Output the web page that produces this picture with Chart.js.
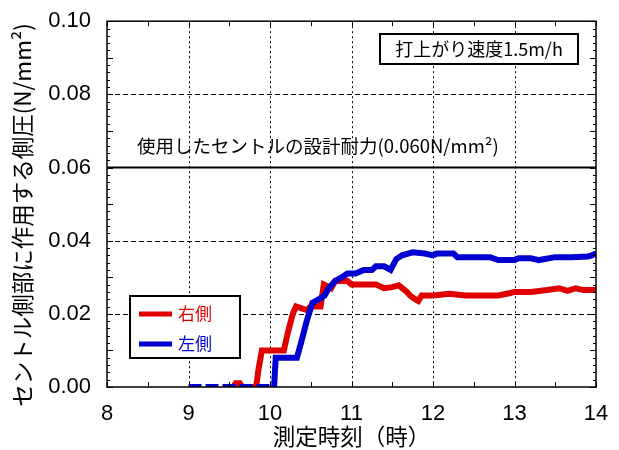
<!DOCTYPE html>
<html>
<head>
<meta charset="utf-8">
<script src="https://cdn.jsdelivr.net/npm/chart.js@4/dist/chart.umd.min.js"></script>
<style>
  html, body { margin: 0; padding: 0; background: #fff; }
  #wrap { width: 619px; height: 450px; }
</style>
</head>
<body>
<div id="wrap"><canvas id="chart" width="619" height="450"></canvas></div>
<script>
// 右側 (right side) readings
const rightTimes = [9.55, 9.58, 9.63, 9.66, 9.83, 9.86, 9.90, 10.17, 10.22, 10.28, 10.32, 10.45, 10.50, 10.62,
  10.66, 10.75, 10.80, 10.95, 11.00, 11.20, 11.30, 11.40, 11.50, 11.58, 11.68, 11.72, 11.78, 11.82, 11.86,
  12.00, 12.20, 12.40, 12.60, 12.80, 12.95, 13.00, 13.20, 13.40, 13.55, 13.65, 13.75, 13.85, 14.00];
const rightValues = [0, 0.001, 0.001, 0, 0, 0.005, 0.010, 0.010, 0.015, 0.020, 0.022, 0.021, 0.022, 0.022,
  0.028, 0.027, 0.029, 0.029, 0.028, 0.028, 0.028, 0.027, 0.0273, 0.0278, 0.026, 0.025, 0.024, 0.0235, 0.025,
  0.025, 0.0255, 0.025, 0.025, 0.025, 0.0257, 0.026, 0.026, 0.0265, 0.027, 0.0263, 0.027, 0.0265, 0.0265];

// 左側 (left side) readings
const leftTimes = [9.00, 10.05, 10.07, 10.33, 10.38, 10.45, 10.52, 10.60, 10.67, 10.72, 10.80, 10.88, 10.95,
  11.05, 11.15, 11.25, 11.30, 11.40, 11.48, 11.55, 11.62, 11.75, 11.90, 12.00, 12.05, 12.25, 12.30, 12.50,
  12.70, 12.80, 13.00, 13.05, 13.20, 13.30, 13.50, 13.70, 13.90, 13.95, 14.00];
const leftValues = [0, 0, 0.008, 0.008, 0.012, 0.018, 0.023, 0.024, 0.025, 0.027, 0.029, 0.030, 0.031,
  0.031, 0.032, 0.032, 0.033, 0.033, 0.032, 0.035, 0.036, 0.0368, 0.0365, 0.036, 0.0365, 0.0365, 0.0355, 0.0355,
  0.0355, 0.0347, 0.0347, 0.0352, 0.0352, 0.0347, 0.0355, 0.0355, 0.0357, 0.036, 0.0365];

const designTimes = [8, 14];
const designValues = [0.06, 0.06];

const xTicks = [8, 9, 10, 11, 12, 13, 14];
const yTicks = [0, 0.02, 0.04, 0.06, 0.08, 0.10];

const seriesNames = ['右側', '左側'];
const seriesColors = ['#e00000', '#0000d0'];

const designLabel = '使用したセントルの設計耐力(0.060N/mm²)';
const speedLabel = '打上がり速度1.5m/h';
const yTitle = 'セントル側部に作用する側圧(N/mm²)';

const toPoints = (xs, ys) => xs.map((x, i) => ({ x: x, y: ys[i] }));

const jpFont = '"Noto Sans CJK JP", "Noto Sans", sans-serif';
const numFont = '"Liberation Sans", Arial, sans-serif';

const decorPlugin = {
  id: 'decor',
  beforeDatasetsDraw(chart) {
    const ctx = chart.ctx;
    const a = chart.chartArea;
    const xs = chart.scales.x, ys = chart.scales.y;
    ctx.save();
    ctx.strokeStyle = '#000';
    ctx.lineWidth = 1;
    // vertical dotted grid
    ctx.setLineDash([2, 3]);
    xTicks.slice(1, -1).forEach(v => {
      const px = Math.round(xs.getPixelForValue(v)) + 0.5;
      ctx.beginPath(); ctx.moveTo(px, a.top); ctx.lineTo(px, a.bottom); ctx.stroke();
    });
    // horizontal dashed grid
    ctx.setLineDash([5, 3]);
    yTicks.slice(1, -1).forEach(v => {
      if (v === 0.06) return;
      const py = Math.round(ys.getPixelForValue(v)) + 0.5;
      ctx.beginPath(); ctx.moveTo(a.left, py); ctx.lineTo(a.right, py); ctx.stroke();
    });
    ctx.restore();
  },
  afterDatasetsDraw(chart) {
    const ctx = chart.ctx;
    const a = chart.chartArea;
    const xs = chart.scales.x, ys = chart.scales.y;
    ctx.save();
    // frame
    ctx.strokeStyle = '#000';
    ctx.lineWidth = 1.5;
    ctx.strokeRect(a.left, a.top, a.right - a.left, a.bottom - a.top);
    // inner ticks
    ctx.lineWidth = 1;
    for (let i = 0; i <= 12; i++) {
      const v = 8 + i * 0.5;
      const px = Math.round(xs.getPixelForValue(v)) + 0.5;
      const len = 5;
      ctx.beginPath();
      ctx.moveTo(px, a.bottom); ctx.lineTo(px, a.bottom - len);
      ctx.moveTo(px, a.top); ctx.lineTo(px, a.top + len);
      ctx.stroke();
    }
    for (let i = 0; i <= 50; i++) {
      const v = i * 0.002;
      const py = Math.round(ys.getPixelForValue(v)) + 0.5;
      const len = (i % 5 === 0) ? 6 : 3;
      ctx.beginPath();
      ctx.moveTo(a.left, py); ctx.lineTo(a.left + len, py);
      ctx.moveTo(a.right, py); ctx.lineTo(a.right - len, py);
      ctx.stroke();
    }
    // y axis title
    ctx.save();
    ctx.translate(22, 215);
    ctx.rotate(-Math.PI / 2);
    ctx.fillStyle = '#000';
    ctx.font = '22.5px ' + jpFont;
    ctx.textAlign = 'center';
    ctx.textBaseline = 'middle';
    ctx.fillText(yTitle, 0, 0);
    ctx.restore();
    // design strength label
    ctx.fillStyle = '#000';
    ctx.font = '18.5px ' + jpFont;
    ctx.textAlign = 'left';
    ctx.textBaseline = 'middle';
    ctx.fillText(designLabel, 137, ys.getPixelForValue(0.066));
    // rate box
    ctx.font = '18px ' + jpFont;
    ctx.fillStyle = '#fff';
    ctx.fillRect(380, 34, 198, 30);
    ctx.lineWidth = 2;
    ctx.strokeRect(380, 34, 198, 30);
    ctx.fillStyle = '#000';
    ctx.textAlign = 'center';
    ctx.fillText(speedLabel, 479, 49);
    // legend
    ctx.fillStyle = '#fff';
    ctx.fillRect(130, 296, 110, 62);
    ctx.strokeStyle = '#000';
    ctx.lineWidth = 2;
    ctx.strokeRect(130, 296, 110, 62);
    ctx.textAlign = 'left';
    ctx.font = '17px ' + jpFont;
    seriesNames.forEach((name, i) => {
      const y = 314 + i * 30;
      ctx.strokeStyle = seriesColors[i];
      ctx.lineWidth = 5;
      ctx.beginPath(); ctx.moveTo(139, y); ctx.lineTo(172, y); ctx.stroke();
      ctx.fillStyle = seriesColors[i];
      ctx.fillText(name, 178, y);
    });
    ctx.restore();
  }
};

new Chart(document.getElementById('chart'), {
  type: 'line',
  data: {
    datasets: [
      {
        label: seriesNames[0],
        data: toPoints(rightTimes, rightValues),
        borderColor: seriesColors[0],
        borderWidth: 6,
        pointRadius: 0,
        tension: 0,
        order: 2
      },
      {
        label: seriesNames[1],
        data: toPoints(leftTimes, leftValues),
        borderColor: seriesColors[1],
        borderWidth: 6,
        pointRadius: 0,
        tension: 0,
        order: 1,
        segment: {
          borderDash: c => (c.p0.parsed.y === 0 && c.p1.parsed.y === 0) ? [13, 4] : undefined
        }
      },
      {
        label: 'design',
        data: toPoints(designTimes, designValues),
        borderColor: '#000',
        borderWidth: 2,
        pointRadius: 0,
        order: 3
      }
    ]
  },
  options: {
    responsive: false,
    animation: false,
    layout: { padding: { left: 0, right: 23, top: 21, bottom: 0 } },
    plugins: { legend: { display: false }, tooltip: { enabled: false } },
    scales: {
      x: {
        type: 'linear',
        min: 8, max: 14,
        afterBuildTicks: s => { s.ticks = xTicks.map(v => ({ value: v })); },
        afterFit: s => { s.height = 63; },
        grid: { display: false },
        border: { display: false },
        ticks: { color: '#000', font: { family: numFont, size: 22 }, padding: 6, maxRotation: 0 },
        title: { display: true, text: '測定時刻（時）', color: '#000', font: { family: jpFont, size: 22.5 }, padding: { top: -3, bottom: 0 } }
      },
      y: {
        min: 0, max: 0.1,
        afterBuildTicks: s => { s.ticks = yTicks.map(v => ({ value: v })); },
        afterFit: s => { s.width = 107; },
        grid: { display: false },
        border: { display: false },
        ticks: { color: '#000', font: { family: numFont, size: 22 }, padding: 8, callback: v => v.toFixed(2) },
        title: { display: false }
      }
    }
  },
  plugins: [decorPlugin]
});
</script>
</body>
</html>
